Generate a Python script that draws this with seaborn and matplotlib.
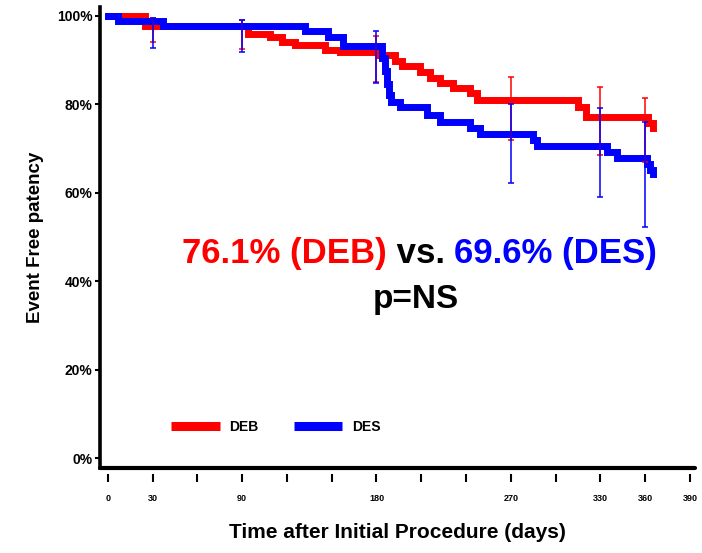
import numpy as np
import pandas as pd
import matplotlib
matplotlib.use("Agg")
import matplotlib.pyplot as plt
import seaborn as sns

# Kaplan-Meier style curves
deb_days = [0, 25, 94, 109, 117, 125.5, 145.6, 155.6, 182, 192.4, 197, 209, 216,
            222.6, 231, 242.7, 247.4, 315, 320, 362, 365]
deb_surv = [100, 97.8, 96.0, 95.3, 94.1, 93.4, 92.3, 91.9, 91.2, 89.7, 88.6, 87.4,
            86.0, 84.8, 83.7, 82.6, 81.0, 79.3, 77.2, 75.8, 74.6]

des_days = [0, 7, 37, 132, 147.5, 157.6, 184, 185.5, 187, 188.5, 190, 196, 214,
            222.6, 242.7, 249, 285, 287.6, 334.4, 341, 361, 363, 365]
des_surv = [100, 98.9, 97.6, 96.5, 95.3, 93.2, 90.5, 87.5, 84.5, 82.0, 80.5, 79.4,
            77.6, 76.0, 74.7, 73.2, 72.0, 70.6, 69.3, 67.9, 66.5, 65.2, 64.3]

# confidence interval bars
ci_days = [30, 90, 180, 270, 330, 360]
deb_lo = [94.0, 92.5, 85.1, 72.0, 68.6, 67.0]
deb_hi = [99.5, 99.0, 95.5, 86.2, 84.0, 81.4]
des_lo = [92.8, 91.8, 84.8, 62.2, 59.0, 52.3]
des_hi = [99.5, 99.1, 96.6, 80.0, 79.2, 76.0]

x_ticks = list(range(0, 391, 30))
x_labeled = [0, 30, 90, 180, 270, 330, 360, 390]
y_ticks = [0, 20, 40, 60, 80, 100]
y_labels = ["0%", "20%", "40%", "60%", "80%", "100%"]

groups = ["DEB", "DES"]
colors = {"DEB": "#ff0000", "DES": "#0000ff"}

df = pd.concat([
    pd.DataFrame({"day": deb_days, "surv": deb_surv, "group": "DEB"}),
    pd.DataFrame({"day": des_days, "surv": des_surv, "group": "DES"}),
])

sns.set_style("white")
plt.rcParams["font.family"] = ["Liberation Sans", "DejaVu Sans"]
plt.rcParams["font.weight"] = "bold"
plt.rcParams["text.color"] = "black"
plt.rcParams["axes.labelcolor"] = "black"

fig = plt.figure(figsize=(7.02, 5.53), dpi=100)
ax = fig.add_axes([100 / 702, 1 - 468 / 553, 595 / 702, 461 / 553])

sns.lineplot(data=df, x="day", y="surv", hue="group", hue_order=groups,
             palette=colors, estimator=None, drawstyle="steps-post",
             lw=5, solid_capstyle="projecting", solid_joinstyle="miter", ax=ax)

for g, lo, hi in [("DEB", deb_lo, deb_hi), ("DES", des_lo, des_hi)]:
    lo = np.array(lo)
    hi = np.array(hi)
    ax.errorbar(ci_days, (lo + hi) / 2, yerr=(hi - lo) / 2, fmt="none",
                ecolor=colors[g], elinewidth=1.1, capsize=2, capthick=1.1)

ax.set_xlim(-5.16, 393.3)
ax.set_ylim(-2.26, 102.0)

ax.set_xticks(x_ticks)
ax.set_xticklabels([str(t) if t in x_labeled else "" for t in x_ticks])
ax.set_yticks(y_ticks)
ax.set_yticklabels(y_labels)

for s in ["top", "right"]:
    ax.spines[s].set_visible(False)
ax.spines["left"].set_linewidth(2.6)
ax.spines["left"].set_color("black")
# bottom ticks sit a little below the axis line
ax.spines["bottom"].set_position(("outward", 4))
ax.spines["bottom"].set_visible(False)
ax.axhline(ax.get_ylim()[0], color="black", lw=3, clip_on=False)

ax.tick_params(axis="x", direction="out", length=6, width=1.5, pad=9,
               labelsize=6.5, bottom=True, colors="black")
ax.tick_params(axis="y", direction="out", length=3.5, width=1.5, pad=2,
               labelsize=10, left=True, colors="black")

ax.set_xlabel("Time after Initial Procedure (days)", fontsize=15,
              fontweight="bold", labelpad=14)
ax.set_ylabel("Event Free patency", fontsize=13.5, fontweight="bold",
              labelpad=9)

handles, labels = ax.get_legend_handles_labels()
leg = ax.legend(handles, labels, loc="center left",
                bbox_to_anchor=(0.108, 0.089), ncol=2, frameon=False,
                borderpad=0, handlelength=3.5, handletextpad=0.7,
                columnspacing=2.5, prop={"weight": "bold", "size": 10})
for line in leg.get_lines():
    line.set_linewidth(6.5)
    line.set_solid_capstyle("butt")

# annotation text, coloured pieces chained on one baseline
t1 = fig.text(182 / 702, 1 - 263 / 553, "76.1% (DEB)", color=colors["DEB"],
              fontsize=25, fontweight="bold", ha="left", va="baseline")
t2 = ax.annotate(" vs. ", xy=(1, 0), xycoords=t1, va="bottom", ha="left",
                 color="black", fontsize=25, fontweight="bold",
                 annotation_clip=False)
ax.annotate("69.6% (DES)", xy=(1, 0), xycoords=t2, va="bottom", ha="left",
            color=colors["DES"], fontsize=25, fontweight="bold",
            annotation_clip=False)
fig.text(416 / 702, 1 - 308 / 553, "p=NS", color="black", fontsize=24,
         fontweight="bold", ha="center", va="baseline")

fig.savefig("out.png", dpi=100)
plt.close(fig)
